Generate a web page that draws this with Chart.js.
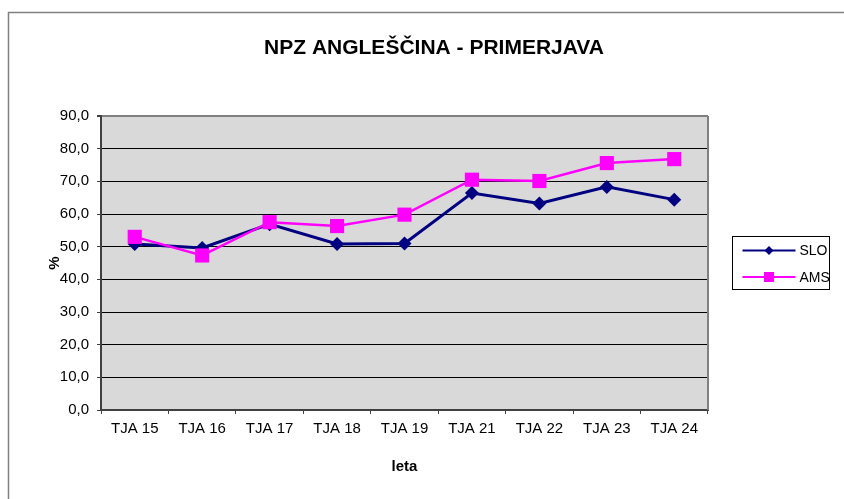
<!DOCTYPE html>
<html>
<head>
<meta charset="utf-8">
<script src="https://cdn.jsdelivr.net/npm/chart.js@4"></script>
<style>
  html, body { margin: 0; padding: 0; background: #fff; }
</style>
</head>
<body>
<canvas id="graph" width="844" height="499" style="width:844px;height:499px" role="img" aria-label="NPZ ANGLEŠČINA - PRIMERJAVA"></canvas>
<script>
const chartTitle = 'NPZ ANGLEŠČINA - PRIMERJAVA'
const categories = ['TJA 15', 'TJA 16', 'TJA 17', 'TJA 18', 'TJA 19', 'TJA 21', 'TJA 22', 'TJA 23', 'TJA 24']
const sloValues = [50.8, 49.6, 56.9, 50.8, 51.0, 66.4, 63.2, 68.3, 64.4]
const amsValues = [53.0, 47.3, 57.5, 56.3, 59.8, 70.5, 70.1, 75.6, 76.8]
const yTickValues = [0, 10, 20, 30, 40, 50, 60, 70, 80, 90]
const xTitle = 'leta'
const yTitle = '%'

const FONT = "'Liberation Sans', Arial, sans-serif"

// plot background, frame, title and the boxed legend
const decor = {
    id: 'decor',
    beforeDraw(chart) {
        const {ctx, chartArea: a} = chart
        ctx.save()
        ctx.fillStyle = '#fff'
        ctx.fillRect(0, 0, chart.width, chart.height)
        ctx.strokeStyle = '#808080'
        ctx.lineWidth = 1.5
        ctx.strokeRect(8.5, 12.5, chart.width + 20, chart.height + 20)
        ctx.fillStyle = '#d9d9d9'
        ctx.fillRect(a.left, a.top, a.right - a.left, a.bottom - a.top)
        ctx.restore()
    },
    afterDraw(chart) {
        const {ctx, chartArea: a} = chart
        ctx.save()
        // right border of plot
        ctx.strokeStyle = '#808080'
        ctx.lineWidth = 2
        ctx.beginPath()
        ctx.moveTo(a.right, a.top)
        ctx.lineTo(a.right, a.bottom)
        ctx.stroke()

        // title
        ctx.fillStyle = '#000'
        ctx.font = 'bold 21px ' + FONT
        ctx.textAlign = 'center'
        ctx.textBaseline = 'middle'
        ctx.fillText(chartTitle, 434, 48)

        // legend
        const sets = [...chart.data.datasets].sort((p, q) => p.legendIndex - q.legendIndex)
        const bx = a.right + 24.5, by = Math.round((a.top + a.bottom) / 2) - 26.5
        const bw = 97, bh = 53
        ctx.fillStyle = '#fff'
        ctx.fillRect(bx, by, bw, bh)
        ctx.strokeStyle = '#000'
        ctx.lineWidth = 1
        ctx.strokeRect(bx, by, bw, bh)
        ctx.font = '14px ' + FONT
        ctx.textAlign = 'left'
        sets.forEach((ds, i) => {
            const y = by + 14 + i * 26.5
            const x0 = bx + 10, x1 = bx + 63, xm = (x0 + x1) / 2
            ctx.strokeStyle = ds.borderColor
            ctx.lineWidth = 2
            ctx.beginPath()
            ctx.moveTo(x0, y)
            ctx.lineTo(x1, y)
            ctx.stroke()
            ctx.fillStyle = ds.borderColor
            if (ds.pointStyle === 'rect') {
                ctx.fillRect(xm - 5, y - 5, 10, 10)
            } else {
                ctx.beginPath()
                ctx.moveTo(xm, y - 4.5)
                ctx.lineTo(xm + 4.5, y)
                ctx.lineTo(xm, y + 4.5)
                ctx.lineTo(xm - 4.5, y)
                ctx.closePath()
                ctx.fill()
            }
            ctx.fillStyle = '#000'
            ctx.fillText(ds.label, x1 + 4, y + 1)
        })
        ctx.restore()
    }
}

const ctx = document.getElementById('graph').getContext('2d')
const graph = new Chart(ctx, {
    type: 'line',
    data: {
        labels: categories,
        datasets: [{
            label: 'SLO',
            data: sloValues,
            legendIndex: 0,
            order: 1,
            borderColor: '#000080',
            backgroundColor: '#000080',
            borderWidth: 3,
            pointStyle: 'rectRot',
            pointRadius: 7,
            pointHoverRadius: 7,
            pointBorderWidth: 0,
            tension: 0
        }, {
            label: 'AMS',
            data: amsValues,
            legendIndex: 1,
            order: 0,
            borderColor: '#ff00ff',
            backgroundColor: '#ff00ff',
            borderWidth: 2.5,
            pointStyle: 'rect',
            pointRadius: 10,
            pointHoverRadius: 10,
            pointBorderWidth: 0,
            tension: 0
        }]
    },
    options: {
        responsive: false,
        animation: false,
        events: [],
        layout: { padding: { top: 116, right: 136, bottom: 0, left: 0 } },
        plugins: {
            legend: { display: false },
            title: { display: false },
            tooltip: { enabled: false }
        },
        scales: {
            x: {
                offset: true,
                afterFit(scale) { scale.height = 89 },
                grid: {
                    offset: true,
                    drawOnChartArea: false,
                    drawTicks: true,
                    tickLength: 4,
                    tickColor: '#404040'
                },
                border: { display: true, color: '#404040', width: 2 },
                ticks: {
                    color: '#000',
                    padding: 6,
                    maxRotation: 0,
                    autoSkip: false,
                    font: { family: FONT, size: 15 }
                },
                title: {
                    display: true,
                    text: xTitle,
                    color: '#000',
                    padding: { top: 0, bottom: 23 },
                    font: { family: FONT, size: 15, weight: 'bold', lineHeight: 1.2 }
                }
            },
            y: {
                min: 0,
                max: 90,
                afterFit(scale) { scale.width = 101 },
                afterBuildTicks(scale) {
                    scale.ticks = yTickValues.map(v => ({ value: v }))
                },
                grid: {
                    color: c => (c.tick && c.tick.value === 90) ? '#808080' : '#000000',
                    lineWidth: c => (c.tick && c.tick.value === 90) ? 2 : 1,
                    drawTicks: true,
                    tickLength: 4,
                    tickColor: '#404040'
                },
                border: { display: true, color: '#404040', width: 2 },
                ticks: {
                    color: '#000',
                    padding: 8,
                    font: { family: FONT, size: 15 },
                    callback: v => v.toFixed(1).replace('.', ',')
                },
                title: {
                    display: true,
                    text: yTitle,
                    color: '#000',
                    padding: { top: 46, bottom: 0 },
                    font: { family: FONT, size: 15, weight: 'bold', lineHeight: 1.2 }
                }
            }
        }
    },
    plugins: [decor]
})
</script>
</body>
</html>
